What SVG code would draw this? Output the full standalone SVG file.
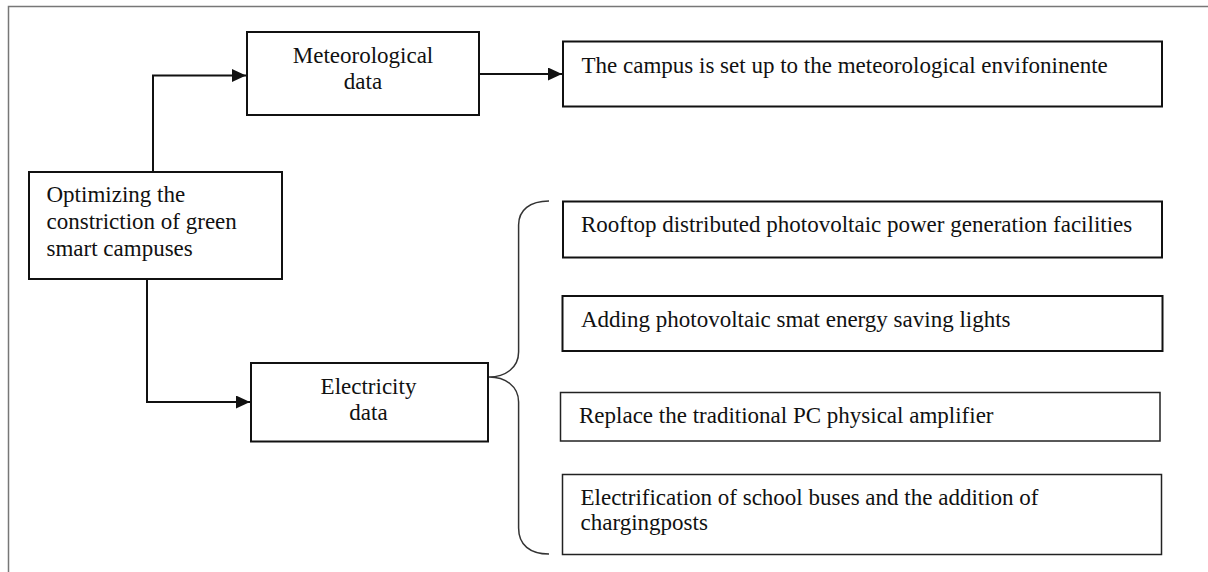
<svg xmlns="http://www.w3.org/2000/svg" width="1208" height="572" viewBox="0 0 1208 572">
<style>
.box{fill:#fff;stroke:#111;stroke-width:2}
.thin{fill:#fff;stroke:#222;stroke-width:1.5}
.t{font-family:"Liberation Serif","Times New Roman",serif;font-size:23px;fill:#111}
.c{text-anchor:middle}
.line{fill:none;stroke:#111;stroke-width:2}
.brace{fill:none;stroke:#333;stroke-width:1.5}
</style>
<defs>
<marker id="ah" markerWidth="14" markerHeight="13" refX="14" refY="6.5" orient="auto" markerUnits="userSpaceOnUse">
<path d="M0,0 L14,6.5 L0,13 Z" fill="#111"/>
</marker>
</defs>
<rect width="1208" height="572" fill="#fff"/>
<path d="M8.5,572 V6.5 H1208" fill="none" stroke="#777" stroke-width="1.5"/>
<g id="connectors">
<path class="line" d="M153,172 V75.5 H246" marker-end="url(#ah)"/>
<path class="line" d="M479.5,74 H562" marker-end="url(#ah)"/>
<path class="line" d="M147,279 V402 H250" marker-end="url(#ah)"/>
<path class="brace" d="M549,201 C530,201 518.6,210 518.6,225 V352 C518.6,368 505,377 489,377 C505,377 518.6,386 518.6,402 V528 C518.6,545 530,554 549,554"/>
</g>
<g id="optimizing">
<rect class="box" x="29" y="172" width="253" height="107"/>
<text class="t" x="46.5" y="202">Optimizing the</text>
<text class="t" x="46.5" y="229">constriction of green</text>
<text class="t" x="46.5" y="256">smart campuses</text>
</g>
<g id="meteorological">
<rect class="box" x="247" y="32" width="232" height="83"/>
<text class="t c" x="363" y="63">Meteorological</text>
<text class="t c" x="363" y="89">data</text>
</g>
<g id="electricity">
<rect class="box" x="251" y="363" width="237" height="78.5"/>
<text class="t c" x="368.5" y="394">Electricity</text>
<text class="t c" x="368.5" y="420">data</text>
</g>
<g id="campus">
<rect class="box" x="563" y="41.5" width="599" height="65"/>
<text class="t" x="581.5" y="72.5">The campus is set up to the meteorological envifoninente</text>
</g>
<g id="rooftop">
<rect class="box" x="563" y="201.5" width="599" height="56"/>
<text class="t" x="581" y="231.5">Rooftop distributed photovoltaic power generation facilities</text>
</g>
<g id="adding">
<rect class="box" x="562.5" y="296" width="600" height="55"/>
<text class="t" x="581" y="326.5">Adding photovoltaic smat energy saving lights</text>
</g>
<g id="replace">
<rect class="thin" x="560.5" y="392.5" width="599.5" height="48.5"/>
<text class="t" x="579" y="422.5">Replace the traditional PC physical amplifier</text>
</g>
<g id="electrification">
<rect class="thin" x="562.5" y="474.5" width="599" height="80"/>
<text class="t" x="580.5" y="505">Electrification of school buses and the addition of</text>
<text class="t" x="580.5" y="530">chargingposts</text>
</g>
</svg>
